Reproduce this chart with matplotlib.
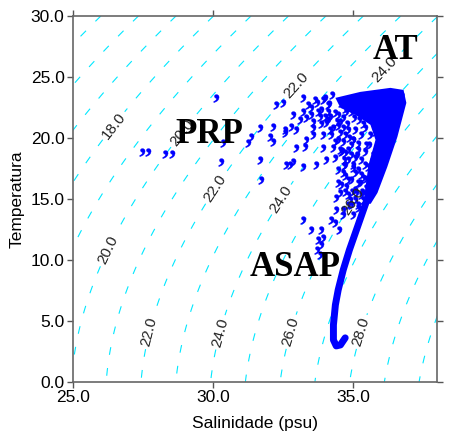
import matplotlib
matplotlib.use("Agg")
import matplotlib.pyplot as plt
from matplotlib.textpath import TextPath
from matplotlib.font_manager import FontProperties
import numpy as np

# --- data ---------------------------------------------------------------
# core of the ASAP / AT profile (salinity, temperature)
core_s = [34.71, 34.54, 34.39, 34.29, 34.29, 34.36, 34.46, 34.64, 34.86,
          35.11, 35.36, 35.61, 35.89, 36.18, 36.50, 36.71]
core_t = [3.61, 3.03, 2.95, 3.44, 4.67, 6.31, 7.54, 9.18, 10.82,
          12.46, 14.10, 15.74, 17.79, 19.84, 21.89, 23.52]

# dense cloud of surface (AT) samples, outline of the saturated part
at_s = [34.36, 35.25, 36.32, 36.79, 36.89, 36.57, 36.21, 35.86, 35.62,
        35.42, 35.40, 35.54, 35.79, 35.61, 35.07, 34.54]
at_t = [23.28, 23.77, 24.10, 23.93, 22.87, 20.08, 17.62, 15.49, 14.60,
        14.60, 15.33, 17.79, 19.84, 21.07, 21.89, 22.46]

# scattered samples
pts_s = [27.36, 27.57, 28.18, 28.43, 30.00, 30.18, 30.25, 31.14, 31.25, 31.57,
         31.57, 31.61, 31.93, 32.14, 32.39, 32.75, 33.11, 33.64, 34.00, 32.04,
         32.46, 32.68, 32.86, 33.00, 33.46, 33.71, 33.93, 34.07, 34.43, 32.04,
         32.46, 32.86, 33.18, 33.21, 33.46, 33.82, 34.18, 34.11, 34.54, 34.25,
         34.61, 33.57, 32.75, 32.64, 33.11, 32.50, 33.11, 33.39, 33.75, 33.64,
         33.75, 33.61, 33.71, 33.82, 34.11, 34.25, 34.29, 34.43, 34.36, 34.54,
         34.64, 34.82, 34.79, 35.00, 35.14, 34.89, 34.71, 35.07, 34.89, 34.71,
         34.36, 35.07, 33.82, 33.39, 34.00, 34.36, 34.54, 34.82, 34.96, 35.07,
         35.25, 35.18, 34.64, 34.96, 34.18, 33.82, 34.61, 34.46, 35.32, 33.93,
         34.71, 34.54, 34.39,
         33.29, 33.54, 33.75, 34.04, 34.25, 34.54, 34.82, 35.11, 35.32, 33.21,
         33.46, 33.75, 34.07, 34.36, 34.68, 34.96, 33.11, 33.89, 34.71,
         34.61, 34.89, 35.18, 35.46, 35.68, 34.71, 35.04, 35.32, 35.54, 34.89,
         35.18, 35.43, 34.71, 34.96, 35.25, 34.82, 34.57, 35.71, 35.32,
         34.36, 34.46, 34.29, 34.54, 34.71, 34.43, 34.25, 34.89, 35.07,
         34.45, 34.75, 35.00, 35.20, 35.45, 34.30, 34.90, 35.25, 35.50, 34.40,
         34.75, 35.05, 35.35, 35.60, 34.50, 34.80, 35.15, 35.40, 34.55, 34.95,
         35.30, 34.60, 35.05, 34.85, 35.20, 34.60, 34.95, 35.35, 33.60, 33.90,
         34.15, 33.40, 34.00, 34.60]
pts_t = [18.85, 18.85, 18.69, 18.69, 23.28, 18.03, 19.59, 19.59, 20.08, 20.82,
         18.20, 16.56, 20.08, 22.70, 22.87, 21.89, 23.28, 22.13, 22.70, 20.90,
         20.66, 20.90, 20.66, 21.48, 21.31, 21.72, 21.23, 21.72, 21.31, 19.67,
         20.41, 19.18, 19.26, 19.84, 20.25, 19.18, 19.18, 20.25, 19.67, 18.36,
         18.77, 17.79, 18.03, 17.79, 17.62, 17.79, 13.28, 12.46, 12.46, 11.64,
         11.23, 10.82, 10.41, 11.80, 13.28, 13.03, 14.10, 15.49, 16.31, 17.13,
         15.98, 16.56, 14.92, 15.49, 16.31, 17.54, 18.20, 19.02, 19.84, 20.66,
         19.84, 14.51, 23.11, 22.46, 22.13, 21.89, 20.82, 19.43, 18.36, 17.38,
         16.72, 15.33, 22.13, 22.30, 20.82, 20.25, 17.79, 18.85, 15.33, 18.20,
         14.51, 13.69, 12.46,
         22.70, 23.11, 22.30, 22.79, 22.05, 21.64, 22.13, 21.48, 20.82, 21.64,
         20.82, 21.15, 20.66, 20.98, 21.15, 20.66, 22.13, 21.72, 22.70,
         20.25, 19.84, 20.25, 19.43, 20.49, 19.02, 18.61, 18.85, 17.38, 17.79,
         16.97, 16.15, 16.56, 15.74, 14.92, 14.51, 18.20, 19.02, 17.79,
         17.38, 16.15, 15.08, 14.10, 15.33, 19.02, 19.67, 13.69, 14.26,
         22.90, 23.00, 22.60, 22.30, 21.80, 21.30, 21.60, 21.10, 20.20, 20.40,
         20.00, 19.50, 19.40, 18.60, 18.90, 18.60, 18.20, 17.60, 17.70, 17.10,
         16.60, 16.90, 16.30, 15.60, 15.60, 15.60, 14.90, 15.90, 22.90, 23.30,
         23.50, 21.90, 21.45, 22.40]

# water mass names and where they sit
mass_names = ["AT", "PRP", "ASAP"]
mass_s = [36.5, 29.86, 32.93]
mass_t = [27.2, 20.25, 9.34]

# isopycnals (sigma-t): every unit drawn, even ones labelled
odd_levels = list(range(13, 31, 2))
even_levels = list(range(12, 32, 2))
label_pos = [(26.4, 21.1), (28.75, 20.65), (32.75, 24.75), (36.4, 25.0),
             (26.25, 10.8), (29.9, 16.1), (32.4, 15.0), (34.9, 14.9),
             (27.75, 4.1), (30.2, 4.1), (32.8, 4.1), (35.3, 4.1)]


def sigma_t(s, t):
    # UNESCO 1980 density at surface pressure, minus 1000
    rw = (999.842594 + 6.793952e-2 * t - 9.095290e-3 * t**2 + 1.001685e-4 * t**3
          - 1.120083e-6 * t**4 + 6.536332e-9 * t**5)
    a = (0.824493 - 4.0899e-3 * t + 7.6438e-5 * t**2 - 8.2467e-7 * t**3
         + 5.3875e-9 * t**4)
    b = -5.72466e-3 + 1.0227e-4 * t - 1.6546e-6 * t**2
    return rw + a * s + b * s**1.5 + 4.8314e-4 * s**2 - 1000.0


plt.rcParams["font.family"] = ["Liberation Sans", "DejaVu Sans"]
BLUE = "#0000ff"

# comma-shaped marker, as in the original plot
comma = TextPath((0, 0), ",", prop=FontProperties(family="Liberation Serif",
                                                  weight="bold"))

fig = plt.figure(figsize=(4.61, 4.41), dpi=100)
ax = fig.add_axes([0.158, 0.134, 0.791, 0.830])

ss, tt = np.meshgrid(np.linspace(25, 38, 300), np.linspace(0, 30, 300))
sig = sigma_t(ss, tt)
dash = [(0, (7, 12))]
ax.contour(ss, tt, sig, levels=odd_levels, colors="#00e8ff",
           linewidths=0.8, linestyles=dash)
cs = ax.contour(ss, tt, sig, levels=even_levels, colors="#00e8ff",
                linewidths=0.8, linestyles=dash)
ax.clabel(cs, manual=label_pos, fmt="%.1f", fontsize=11,
          colors="#222222", inline=True, inline_spacing=3)

ax.fill(at_s, at_t, color=BLUE, lw=0, zorder=3)
ax.plot(core_s, core_t, color=BLUE, lw=5, solid_capstyle="round",
        solid_joinstyle="round", zorder=3)
ax.plot(pts_s, pts_t, ls="none", marker=comma, ms=8, mew=0.3,
        color=BLUE, zorder=3)

for name, s, t in zip(mass_names, mass_s, mass_t):
    ax.text(s, t, name, ha="center", va="center", fontsize=25,
            fontweight="bold", family="Liberation Serif", color="black",
            zorder=5)

ax.set_xlim(25, 38)
ax.set_ylim(0, 30)
ax.set_xticks([25, 30, 35])
ax.set_yticks(np.arange(0, 31, 5))
ax.xaxis.set_major_formatter(matplotlib.ticker.FormatStrFormatter("%.1f"))
ax.yaxis.set_major_formatter(matplotlib.ticker.FormatStrFormatter("%.1f"))
ax.tick_params(direction="out", length=4, width=1, color="#555555",
               labelsize=12.5, top=True, right=True, pad=2)
for sp in ax.spines.values():
    sp.set_color("#666666")
    sp.set_linewidth(1.2)

ax.set_xlabel("Salinidade (psu)", fontsize=12.5, labelpad=8)
ax.set_ylabel("Temperatura", fontsize=12.5, labelpad=4)

fig.savefig("out.png", dpi=100)
